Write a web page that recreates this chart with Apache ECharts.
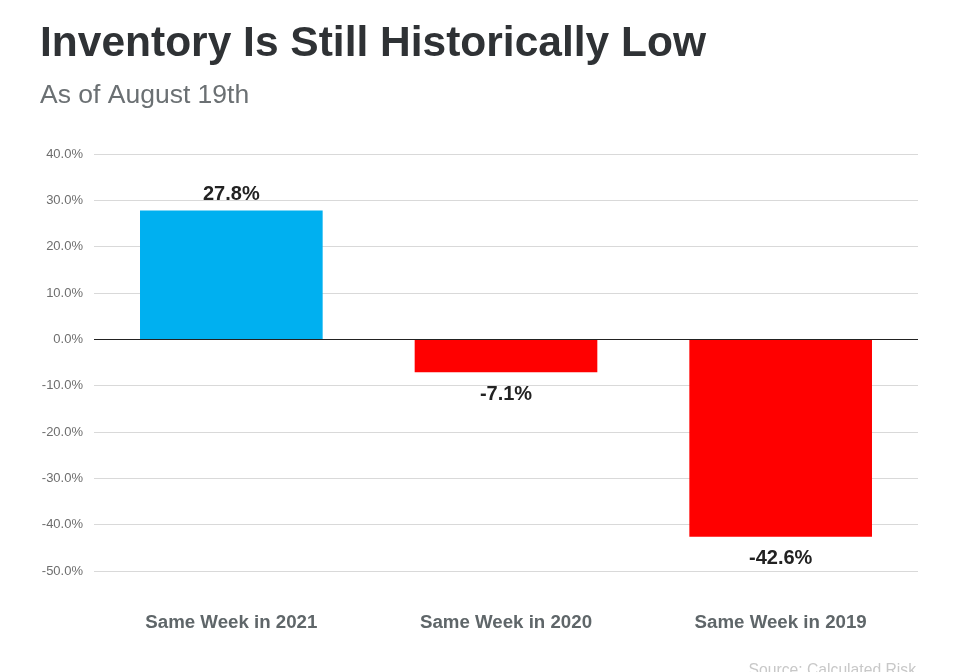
<!DOCTYPE html>
<html>
<head>
<meta charset="utf-8">
<script src="https://cdn.jsdelivr.net/npm/echarts@6/dist/echarts.min.js"></script>
<style>html,body{margin:0;padding:0;background:#fff;}#c{width:960px;height:672px;}</style>
</head>
<body>
<div id="c"></div>
<script>
const categories = ['Same Week in 2021', 'Same Week in 2020', 'Same Week in 2019'];
const values = [27.8, -7.1, -42.6];
const barColors = ['#00b0f0', '#ff0000', '#ff0000'];
const yMin = -50, yMax = 40, yStep = 10;

const FF = '"Liberation Sans", Arial, sans-serif';
const chart = echarts.init(document.getElementById('c'));
chart.setOption({
  animation: false,
  backgroundColor: '#fff',
  title: [
    { text: 'Inventory Is Still Historically Low', left: 35, top: 18,
      textStyle: { fontFamily: FF, fontSize: 42.5, fontWeight: 'bold', color: '#2f3235' } },
    { text: 'As of August 19th', left: 35, top: 77,
      textStyle: { fontFamily: FF, fontSize: 26.5, fontWeight: 'normal', color: '#6b7073' } },
    { text: 'Source: Calculated Risk', right: 39, top: 658,
      textStyle: { fontFamily: FF, fontSize: 15.7, fontWeight: 'normal', color: '#c8c8c8' } }
  ],
  grid: { left: 94, right: 42, top: 154, bottom: 101, containLabel: false },
  xAxis: {
    type: 'category', data: categories, position: 'bottom',
    axisLine: { show: false }, axisTick: { show: false },
    axisLabel: { interval: 0, margin: 42, fontFamily: FF, fontSize: 18.7, fontWeight: 'bold', color: '#5f6669' }
  },
  yAxis: {
    type: 'value', min: yMin, max: yMax, interval: yStep,
    axisLine: { show: false }, axisTick: { show: false },
    axisLabel: { margin: 11, fontFamily: FF, fontSize: 13, color: '#6e6e6e',
      formatter: v => v.toFixed(1) + '%' },
    splitLine: { lineStyle: { color: '#d9d9d9', width: 1 } }
  },
  series: [{
    type: 'bar',
    data: values.map((v, i) => ({ value: v, itemStyle: { color: barColors[i] },
      label: v >= 0 ? { position: 'top', distance: 6 } : { position: 'bottom', distance: 12 } })),
    barWidth: '66.5%',
    label: { show: true, fontFamily: FF, fontSize: 20, fontWeight: 'bold', color: '#222',
      formatter: p => p.value.toFixed(1) + '%' },
    markLine: {
      silent: true, symbol: 'none', label: { show: false },
      lineStyle: { color: '#222', width: 1, type: 'solid' },
      data: [{ yAxis: 0 }]
    }
  }]
});
</script>
</body>
</html>
